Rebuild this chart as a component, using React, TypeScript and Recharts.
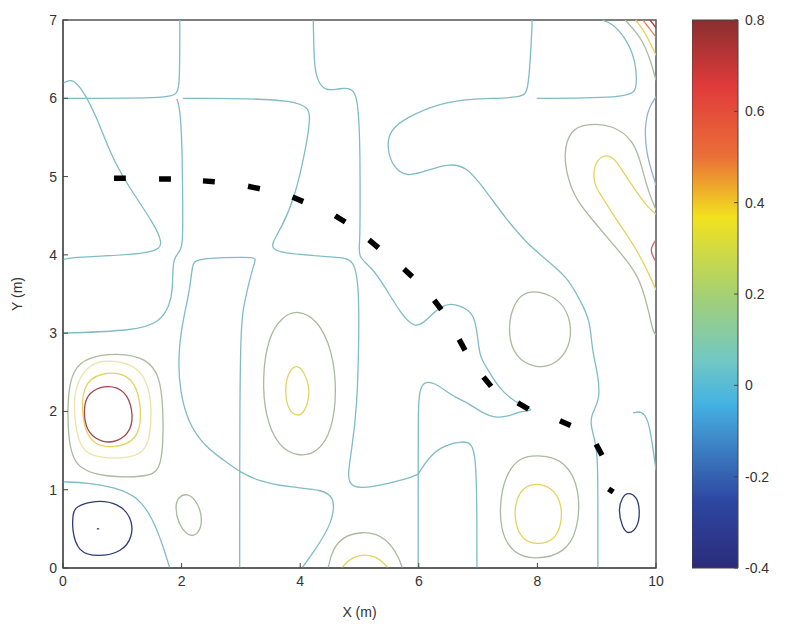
import React from 'react';
import { LineChart, Line, XAxis, YAxis, ReferenceArea, BarChart, Bar } from 'recharts';

// axis ticks
const xTicks = [0, 2, 4, 6, 8, 10];
const yTicks = [0, 1, 2, 3, 4, 5, 6, 7];
const cbTicks = [-0.4, -0.2, 0, 0.2, 0.4, 0.6, 0.8];

// contour level 0 (teal)
const zeroA = [[1.97, 7], [1.97, 6.07], [1.89, 6.0], [0, 6.0]];
const zeroTri = [[0, 6.19], [0.15, 6.26], [0.34, 6.1], [0.57, 5.76], [0.84, 5.21], [1.18, 4.79], [1.52, 4.41], [1.69, 4.15], [1.59, 4.01], [0.07, 3.97], [0, 3.93]];
const zeroB = [[2.02, 6.0], [4.13, 6.0], [4.18, 5.76], [4.08, 5.3], [3.91, 4.74], [3.69, 4.35], [3.49, 4.12], [3.59, 4.02], [4.64, 3.97], [4.92, 3.95], [4.99, 3.55], [4.99, 2.91], [4.96, 2.06], [4.87, 1.51], [4.79, 1.16], [4.87, 1.02], [5.21, 1.03], [5.82, 1.14], [5.99, 1.2]];
const zeroC = [[4.22, 7], [4.23, 6.62], [4.25, 6.27], [4.42, 6.08], [4.67, 6.13], [4.87, 6.13], [4.97, 6.02], [5.01, 5.43], [5.01, 4.7], [5.01, 4.15], [4.97, 3.97], [5.21, 3.84], [5.43, 3.59], [5.68, 3.27], [5.94, 3.04], [6.16, 3.19], [6.39, 3.36], [6.61, 3.38], [6.86, 3.29], [6.95, 3.17], [7.0, 2.91], [7.03, 2.69], [7.17, 2.53], [7.34, 2.31], [7.57, 2.15], [7.74, 2.08], [7.96, 2.01], [7.74, 2.01], [7.5, 1.93], [7.28, 1.92], [7.07, 1.98], [6.83, 2.11], [6.61, 2.18], [6.44, 2.27], [6.27, 2.36], [6.1, 2.39], [6.0, 2.27], [5.99, 1.89], [5.99, 1.25], [5.99, 0]];
const zeroBump = [[5.99, 1.2], [6.19, 1.44], [6.44, 1.57], [6.73, 1.62], [6.9, 1.6], [6.96, 1.38], [6.98, 0.87], [6.98, 0]];
const zeroD = [[1.92, 5.99], [1.97, 5.89], [2.01, 5.43], [2.02, 4.57], [2.02, 4.19], [1.99, 4.06], [1.89, 3.98], [1.85, 3.87], [1.85, 3.55], [1.8, 3.36], [1.64, 3.14], [1.21, 3.03], [0, 3.0]];
const zeroE = [[2.98, 0], [2.98, 2.15], [3.0, 3.04], [3.04, 3.33], [3.12, 3.59], [3.2, 3.84], [3.27, 3.96], [3.15, 3.97], [2.23, 3.96], [2.18, 3.87], [2.14, 3.55], [2.01, 3.13], [1.94, 2.69], [1.97, 2.27], [2.11, 1.85], [2.39, 1.55], [2.78, 1.34], [2.98, 1.23], [3.29, 1.11], [3.83, 1.03], [4.37, 1.0], [4.59, 0.91], [4.54, 0.57], [4.25, 0.23], [4.03, 0]];
const zeroF = [[0, 1.1], [0.42, 1.09], [0.88, 1.03], [1.26, 0.91], [1.5, 0.65], [1.67, 0.32], [1.8, 0]];
const zeroG = [[7.91, 7], [7.91, 6.91], [7.88, 6.49], [7.84, 6.1], [7.76, 6.0], [6.91, 6.0], [6.36, 5.94], [5.8, 5.76], [5.51, 5.59], [5.46, 5.38], [5.56, 5.12], [5.8, 4.99], [6.14, 5.08], [6.53, 5.17], [6.81, 5.12], [7.08, 4.87], [7.49, 4.44], [7.82, 4.15], [8.16, 3.93], [8.5, 3.72], [8.72, 3.42], [8.89, 3.17], [8.92, 2.78], [9.02, 2.49], [9.06, 2.15], [8.92, 1.98], [8.89, 1.85], [8.97, 1.63], [9.02, 1.42], [9.02, 0.61], [9.02, 0]];
const zeroH = [[7.99, 6.0], [9.6, 6.0], [9.68, 6.14], [9.66, 6.49], [9.48, 6.78], [9.26, 6.96], [9.09, 7]];
const zeroI = [[10, 6.02], [9.87, 5.87], [9.81, 5.63], [9.83, 5.34], [9.92, 5.08], [10, 4.89]];
const zeroJ = [[9.61, 1.98], [9.76, 2.01], [9.87, 1.89], [9.93, 1.63], [10, 1.25]];

// contour level 0.2 (grey green)
const g1Right = [[10, 4.57], [9.87, 4.83], [9.76, 5.12], [9.6, 5.43], [9.26, 5.63], [8.85, 5.66], [8.58, 5.56], [8.47, 5.3], [8.52, 4.99], [8.68, 4.7], [8.97, 4.41], [9.26, 4.15], [9.53, 3.9], [9.73, 3.64], [9.87, 3.29], [9.95, 3.04], [10, 2.98]];
const g1Corner = [[9.48, 7], [9.73, 6.77], [9.9, 6.49], [10, 6.23]];
const g1Bottom = [[4.47, 0], [4.64, 0.32], [5.04, 0.45], [5.43, 0.36], [5.65, 0.14], [5.72, 0]];
// closed rings, level 0.2
const g1Left = [[0.08, 2.23], [0.17, 2.53], [0.4, 2.69], [0.91, 2.75], [1.42, 2.68], [1.64, 2.44], [1.69, 2.02], [1.69, 1.6], [1.64, 1.25], [1.42, 1.16], [0.67, 1.16], [0.17, 1.29], [0.08, 1.72]];
const g1Small = [[1.94, 0.91], [2.11, 0.96], [2.28, 0.83], [2.36, 0.61], [2.28, 0.42], [2.11, 0.4], [1.94, 0.57], [1.89, 0.78]];
const g1Four = [[3.96, 3.3], [4.3, 3.17], [4.54, 2.78], [4.62, 2.27], [4.54, 1.76], [4.3, 1.47], [3.96, 1.42], [3.63, 1.55], [3.41, 1.93], [3.36, 2.44], [3.46, 2.95], [3.69, 3.21]];
const g1Upper8 = [[8.01, 3.55], [8.41, 3.42], [8.58, 3.13], [8.55, 2.82], [8.3, 2.59], [7.96, 2.55], [7.62, 2.69], [7.5, 3.0], [7.57, 3.33], [7.74, 3.51]];
const g1Lower8 = [[7.96, 1.44], [8.3, 1.42], [8.58, 1.25], [8.72, 0.91], [8.68, 0.49], [8.47, 0.19], [7.96, 0.1], [7.57, 0.19], [7.37, 0.49], [7.37, 0.91], [7.5, 1.25], [7.74, 1.42]];

// contour level 0.3 (light yellow)
const y3Left = [[0.17, 2.27], [0.42, 2.63], [0.88, 2.66], [1.26, 2.57], [1.47, 2.31], [1.5, 1.85], [1.42, 1.51], [1.16, 1.4], [0.59, 1.4], [0.29, 1.51], [0.2, 1.85]];

// contour level 0.4 (yellow)
const y4Right = [[10, 4.52], [9.87, 4.61], [9.65, 4.83], [9.43, 5.08], [9.26, 5.24], [9.09, 5.25], [8.97, 5.12], [8.97, 4.92], [9.09, 4.74], [9.31, 4.48], [9.53, 4.23], [9.7, 4.02], [9.87, 3.77], [10, 3.55]];
const y4Corner = [[9.66, 7], [9.83, 6.81], [10, 6.55]];
const y4Bottom = [[4.7, 0], [4.92, 0.14], [5.26, 0.14], [5.48, 0]];
const y4Left = [[0.32, 2.36], [0.66, 2.5], [1.05, 2.49], [1.26, 2.31], [1.33, 1.93], [1.25, 1.63], [0.88, 1.53], [0.49, 1.57], [0.32, 1.85]];
const y4Four = [[3.96, 2.62], [4.11, 2.44], [4.17, 2.23], [4.08, 1.99], [3.95, 1.93], [3.79, 2.02], [3.74, 2.27], [3.79, 2.5]];
const y4Lower8 = [[7.96, 1.09], [8.25, 1.03], [8.41, 0.83], [8.41, 0.57], [8.3, 0.36], [8.01, 0.29], [7.74, 0.36], [7.62, 0.57], [7.62, 0.83], [7.74, 1.02]];

// contour level 0.6 / 0.8 (red)
const r6Left = [[0.37, 2.15], [0.49, 2.27], [0.76, 2.34], [1.05, 2.27], [1.18, 2.02], [1.16, 1.76], [0.93, 1.61], [0.66, 1.6], [0.42, 1.72], [0.35, 1.93]];
const r6Edge = [[10, 4.19], [9.92, 4.06], [10, 3.91]];
const r6Corner = [[9.78, 7], [10, 6.78]];
const r8Corner = [[9.9, 7], [10, 6.9]];

// contour level -0.2 (navy)
const nLeft = [[0.2, 0.78], [0.54, 0.87], [0.93, 0.83], [1.16, 0.65], [1.18, 0.4], [0.99, 0.2], [0.59, 0.14], [0.25, 0.2], [0.15, 0.49], [0.17, 0.7]];
const nDot = [[0.57, 0.5], [0.61, 0.5]];
const nRight = [[9.53, 0.97], [9.68, 0.91], [9.73, 0.74], [9.7, 0.52], [9.53, 0.42], [9.43, 0.52], [9.36, 0.74], [9.43, 0.91]];

// black dashed path: each dash [x1, y1, x2, y2]
const dashes = [
  [0.86, 4.98, 1.06, 4.98], [1.62, 4.97, 1.82, 4.97], [2.36, 4.945, 2.56, 4.935],
  [3.12, 4.876, 3.32, 4.844], [3.87, 4.74, 4.05, 4.68], [4.59, 4.5, 4.76, 4.42],
  [5.16, 4.19, 5.32, 4.09], [5.75, 3.82, 5.89, 3.72], [6.26, 3.42, 6.38, 3.3],
  [6.68, 2.92, 6.78, 2.78], [7.09, 2.44, 7.22, 2.32], [7.67, 2.11, 7.85, 2.03],
  [8.38, 1.88, 8.56, 1.82], [8.99, 1.58, 9.09, 1.44], [9.2, 1.01, 9.28, 0.97],
];

const toPts = (arr: number[][]) => arr.map(([x, y]) => ({ x, y }));
const dashPts = dashes.flatMap(([x1, y1, x2, y2]) => [{ x: x1, y: y1 }, { x: x2, y: y2 }, { x: x2, y: null }]);

const TEAL = '#80bcc5';
const GREEN = '#aab99f';
const LYELLOW = '#e9e4a6';
const YELLOW = '#e2d460';
const RED = '#a0464c';
const ORANGE = '#e6844e';
const NAVY = '#2f3a78';

type Curve = 'linear' | 'natural' | 'basis' | 'basisClosed';
const contours: { data: number[][]; color: string; curve: Curve }[] = [
  { data: zeroA, color: TEAL, curve: 'basis' },
  { data: zeroTri, color: TEAL, curve: 'basis' },
  { data: zeroB, color: TEAL, curve: 'basis' },
  { data: zeroC, color: TEAL, curve: 'basis' },
  { data: zeroBump, color: TEAL, curve: 'basis' },
  { data: zeroD, color: TEAL, curve: 'basis' },
  { data: zeroE, color: TEAL, curve: 'basis' },
  { data: zeroF, color: TEAL, curve: 'basis' },
  { data: zeroG, color: TEAL, curve: 'basis' },
  { data: zeroH, color: TEAL, curve: 'basis' },
  { data: zeroI, color: '#90b2d2', curve: 'basis' },
  { data: zeroJ, color: TEAL, curve: 'basis' },
  { data: g1Right, color: GREEN, curve: 'natural' },
  { data: g1Corner, color: GREEN, curve: 'natural' },
  { data: g1Bottom, color: GREEN, curve: 'natural' },
  { data: g1Left, color: GREEN, curve: 'basisClosed' },
  { data: g1Small, color: GREEN, curve: 'basisClosed' },
  { data: g1Four, color: GREEN, curve: 'basisClosed' },
  { data: g1Upper8, color: GREEN, curve: 'basisClosed' },
  { data: g1Lower8, color: GREEN, curve: 'basisClosed' },
  { data: y3Left, color: LYELLOW, curve: 'basisClosed' },
  { data: y4Right, color: YELLOW, curve: 'natural' },
  { data: y4Corner, color: YELLOW, curve: 'natural' },
  { data: y4Bottom, color: YELLOW, curve: 'natural' },
  { data: y4Left, color: YELLOW, curve: 'basisClosed' },
  { data: y4Four, color: YELLOW, curve: 'basisClosed' },
  { data: y4Lower8, color: YELLOW, curve: 'basisClosed' },
  { data: r6Left, color: RED, curve: 'basisClosed' },
  { data: r6Edge, color: '#d06070', curve: 'natural' },
  { data: r6Corner, color: ORANGE, curve: 'linear' },
  { data: r8Corner, color: '#b03030', curve: 'linear' },
  { data: nLeft, color: NAVY, curve: 'basisClosed' },
  { data: nDot, color: NAVY, curve: 'linear' },
  { data: nRight, color: NAVY, curve: 'basisClosed' },
];

const cbData = [{ name: 'bar', range: [-0.4, 0.8] }];

const tickStyle = { fill: '#333', fontSize: 14, fontFamily: '"Liberation Sans", Arial, sans-serif' };
const tickLine = { stroke: '#444' };

export default function App() {
  return (
    <div style={{ position: 'absolute', left: 0, top: 0, width: 786, height: 631, background: '#fff' }}>
      <div style={{ position: 'absolute', left: 0, top: 0 }}>
        <LineChart width={786} height={631} margin={{ top: 20, right: 130, bottom: 0, left: 0 }}>
          <XAxis
            type="number"
            dataKey="x"
            domain={[0, 10]}
            ticks={xTicks}
            height={63}
            allowDataOverflow
            axisLine={{ stroke: '#444' }}
            tickLine={tickLine}
            tickSize={-5}
            tickMargin={13}
            tick={tickStyle}
            label={{ value: 'X (m)', position: 'insideBottom', offset: 14, style: tickStyle }}
          />
          <XAxis
            xAxisId="top"
            orientation="top"
            type="number"
            domain={[0, 10]}
            ticks={xTicks}
            height={0}
            axisLine={false}
            tickLine={tickLine}
            tickSize={-5}
            tick={false}
          />
          <YAxis
            type="number"
            dataKey="y"
            domain={[0, 7]}
            ticks={yTicks}
            width={63}
            allowDataOverflow
            axisLine={{ stroke: '#444' }}
            tickLine={tickLine}
            tickSize={-5}
            tickMargin={11}
            tick={tickStyle}
            label={{ value: 'Y (m)', angle: -90, position: 'insideLeft', offset: 17, style: { ...tickStyle, textAnchor: 'middle' } }}
          />
          <YAxis
            yAxisId="right"
            orientation="right"
            type="number"
            domain={[0, 7]}
            ticks={yTicks}
            width={0}
            axisLine={false}
            tickLine={tickLine}
            tickSize={-5}
            tick={false}
          />
          <ReferenceArea x1={0} x2={10} y1={0} y2={7} fill="none" stroke="#555" strokeWidth={1.5} ifOverflow="visible" />
          {contours.map((c, i) => (
            <Line
              key={i}
              data={toPts(c.data)}
              dataKey="y"
              type={c.curve}
              stroke={c.color}
              strokeWidth={1.3}
              dot={false}
              activeDot={false}
              isAnimationActive={false}
            />
          ))}
          <Line
            data={dashPts}
            dataKey="y"
            type="linear"
            stroke="#000"
            strokeWidth={5.5}
            strokeLinecap="butt"
            dot={false}
            activeDot={false}
            isAnimationActive={false}
          />
        </LineChart>
      </div>
      <div style={{ position: 'absolute', left: 692, top: 0 }}>
        <BarChart width={94} height={631} data={cbData} margin={{ top: 20, right: 0, bottom: 63, left: 0 }} barCategoryGap={0}>
          <defs>
            <linearGradient id="jet" x1="0" y1="0" x2="0" y2="1">
              <stop offset="0%" stopColor="#8a2f2f" />
              <stop offset="12%" stopColor="#e03a3a" />
              <stop offset="25%" stopColor="#ea7038" />
              <stop offset="36%" stopColor="#f2e21e" />
              <stop offset="50%" stopColor="#a6d072" />
              <stop offset="62%" stopColor="#72c8c2" />
              <stop offset="70%" stopColor="#44b2e2" />
              <stop offset="80%" stopColor="#3a74bc" />
              <stop offset="88%" stopColor="#2d46a0" />
              <stop offset="100%" stopColor="#2c2c7a" />
            </linearGradient>
          </defs>
          <XAxis dataKey="name" hide />
          <YAxis
            yAxisId="cbLeft"
            orientation="left"
            type="number"
            domain={[-0.4, 0.8]}
            ticks={cbTicks}
            width={0}
            axisLine={false}
            tickLine={tickLine}
            tickSize={-4}
            tick={false}
          />
          <YAxis
            orientation="right"
            type="number"
            domain={[-0.4, 0.8]}
            ticks={cbTicks}
            width={48}
            axisLine={false}
            tickLine={tickLine}
            tickSize={-4}
            tickMargin={11}
            tick={tickStyle}
            tickFormatter={(v: number) => String(Math.round(v * 10) / 10)}
          />
          <Bar dataKey="range" fill="url(#jet)" stroke="#444" isAnimationActive={false} />
        </BarChart>
      </div>
    </div>
  );
}
